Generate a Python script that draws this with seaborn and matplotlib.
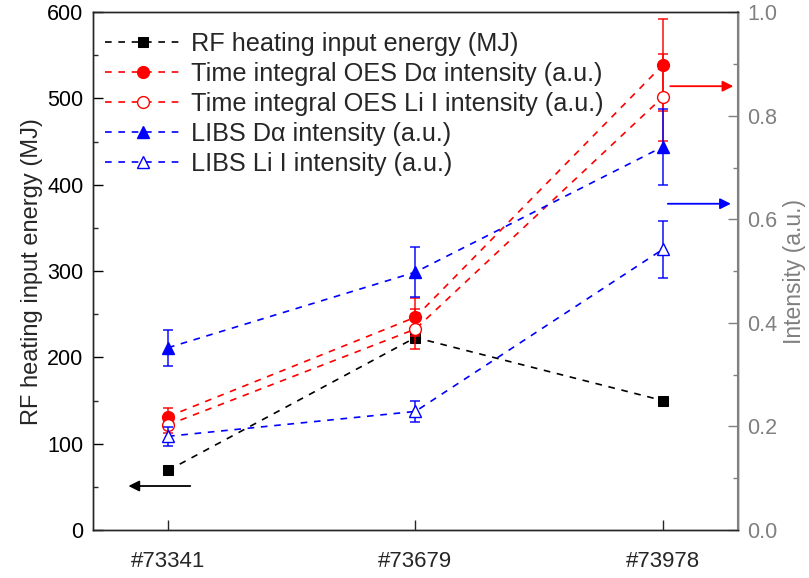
import numpy as np
import pandas as pd
import matplotlib
matplotlib.use("Agg")
import matplotlib.pyplot as plt
import seaborn as sns

# shots on the x axis
shots = ["#73341", "#73679", "#73978"]

# left axis: RF heating input energy (MJ)
rf_energy = [69, 223, 150]

# right axis: intensities (a.u.) with error bars
oes_da = [0.219, 0.411, 0.898]
oes_da_err = [0.016, 0.037, 0.088]
oes_li = [0.203, 0.388, 0.836]
oes_li_err = [0.016, 0.038, 0.084]
libs_da = [0.352, 0.498, 0.740]
libs_da_err = [0.035, 0.048, 0.073]
libs_li = [0.181, 0.229, 0.542]
libs_li_err = [0.018, 0.021, 0.055]

sns.set_theme(style="ticks")
plt.rcParams['font.family'] = ['Liberation Sans', 'DejaVu Sans']
plt.rcParams['axes.linewidth'] = 1.0

pos = np.arange(len(shots))
dash = (0, (4, 4))

fig = plt.figure(figsize=(8.09, 5.78), dpi=100)
ax = fig.add_axes([0.115, 0.083, 0.797, 0.896])
ax2 = ax.twinx()

# left series
sns.lineplot(x=pos, y=rf_energy, ax=ax, color='black', marker='s', markersize=7,
             markeredgecolor='black', linestyle=dash, linewidth=1.2,
             label='RF heating input energy (MJ)')

# right series
series = [
    (oes_da, oes_da_err, 'red', 'o', True, 'Time integral OES D\u03b1 intensity (a.u.)', 8.5),
    (oes_li, oes_li_err, 'red', 'o', False, 'Time integral OES Li I intensity (a.u.)', 8.5),
    (libs_da, libs_da_err, 'blue', '^', True, 'LIBS D\u03b1 intensity (a.u.)', 9),
    (libs_li, libs_li_err, 'blue', '^', False, 'LIBS Li I intensity (a.u.)', 9),
]
for vals, err, col, mk, filled, lab, ms in series:
    ax2.errorbar(pos, vals, yerr=err, fmt='none', ecolor=col, alpha=0.8,
                 elinewidth=1.3, capsize=3.5, capthick=1.3)
    sns.lineplot(x=pos, y=vals, ax=ax2, color=col, marker=mk, markersize=ms,
                 markeredgecolor=col, markerfacecolor=col if filled else 'white',
                 markeredgewidth=1.0, linestyle=dash, linewidth=1.2, label=lab)

for a in (ax, ax2):
    if a.get_legend() is not None:
        a.get_legend().remove()

# axes limits and ticks
ax.set_xlim(-0.303, 2.303)
ax.set_xticks(pos)
ax.set_xticklabels(shots)
ax.set_ylim(0, 600)
ax.set_yticks(np.arange(0, 601, 100))
ax.set_yticks(np.arange(50, 600, 100), minor=True)
ax2.set_ylim(0, 1.0)
ax2.set_yticks(np.arange(0, 1.01, 0.2))
ax2.set_yticks(np.arange(0.1, 1.0, 0.2), minor=True)
ax2.yaxis.set_major_formatter(matplotlib.ticker.FormatStrFormatter('%.1f'))

ax.tick_params(axis='y', which='major', direction='in', length=7, width=1.0,
               labelsize=15.5, pad=7, colors='black')
ax.tick_params(axis='y', which='minor', direction='in', length=3.5, width=1.0)
ax.tick_params(axis='x', which='major', direction='in', length=7, width=1.0,
               labelsize=16, pad=15)
grey = '#808080'
ax2.tick_params(axis='y', which='major', direction='in', length=7, width=1.0,
                labelsize=15.5, pad=7, colors=grey, labelcolor=grey)
ax2.tick_params(axis='y', which='minor', direction='in', length=3.5, width=1.0, colors=grey)
ax2.spines['right'].set_color(grey)
ax2.spines['right'].set_linewidth(1.5)

ax.set_ylabel('RF heating input energy (MJ)', fontsize=17, labelpad=3)
ax2.set_ylabel('Intensity (a.u.)', fontsize=16.5, color=grey, labelpad=4)
ax.set_xlabel('')

# direction arrows
ax.annotate('', xy=(-0.16, 51), xytext=(0.09, 51),
            arrowprops=dict(arrowstyle='-|>', color='black', lw=1.3,
                            mutation_scale=16, shrinkA=0, shrinkB=0))
ax2.annotate('', xy=(2.285, 0.857), xytext=(2.03, 0.857),
             arrowprops=dict(arrowstyle='-|>', color='red', lw=1.3,
                             mutation_scale=16, shrinkA=0, shrinkB=0))
ax2.annotate('', xy=(2.275, 0.630), xytext=(2.02, 0.630),
             arrowprops=dict(arrowstyle='-|>', color='blue', lw=1.3,
                             mutation_scale=16, shrinkA=0, shrinkB=0))

h1, l1 = ax.get_legend_handles_labels()
h2, l2 = ax2.get_legend_handles_labels()
ax2.legend(h1 + h2, l1 + l2, loc='upper left', bbox_to_anchor=(0.018, 0.962),
           frameon=False, fontsize=18.2, handlelength=3, handletextpad=0.4,
           labelspacing=0.24, borderaxespad=0, borderpad=0, numpoints=1)

fig.savefig('out.png', dpi=100)
